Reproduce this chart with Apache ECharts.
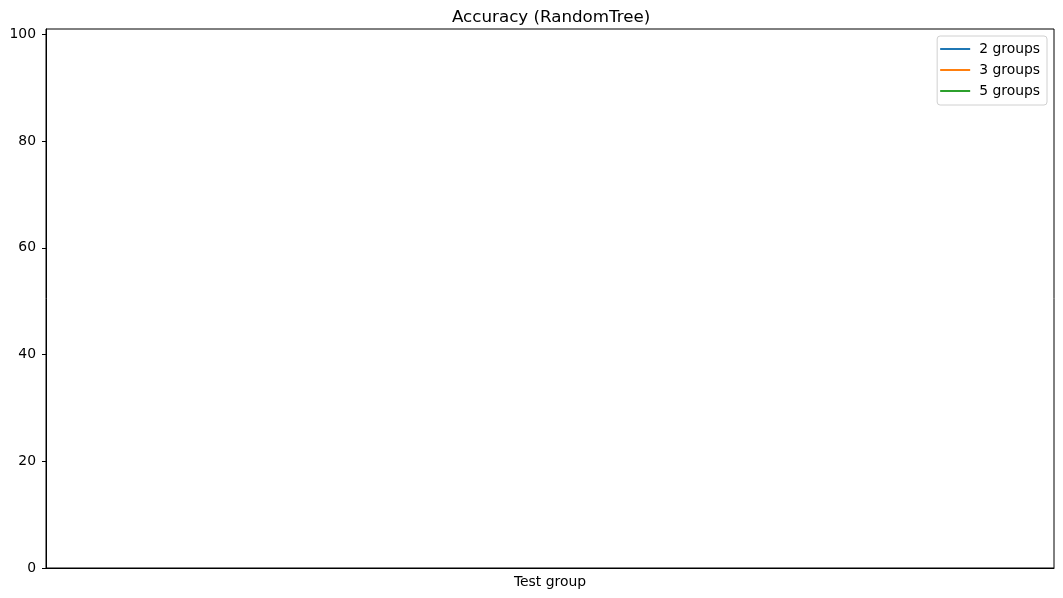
<!DOCTYPE html>
<html>
<head>
<meta charset="utf-8">
<script src="https://cdn.jsdelivr.net/npm/echarts@6/dist/echarts.min.js"></script>
<style>
html,body{margin:0;padding:0;background:#fff;}
#chart{width:1063px;height:598px;}
</style>
</head>
<body>
<div id="chart"></div>
<script>
var titleText = 'Accuracy (RandomTree)';
var xLabel = 'Test group';
var seriesNames = ['2 groups', '3 groups', '5 groups'];
var seriesColors = ['#1f77b4', '#ff7f0e', '#2ca02c'];
var values2 = [];
var values3 = [];
var values5 = [];
var yTicks = [0, 20, 40, 60, 80, 100];
var yMin = 0, yMax = 101;

var seriesValues = [values2, values3, values5];
var font = 'DejaVu Sans';
var chart = echarts.init(document.getElementById('chart'), null, {renderer: 'canvas'});
chart.setOption({
  animation: false,
  backgroundColor: '#fff',
  title: {
    text: titleText, left: 447, top: 4,
    textStyle: {fontFamily: font, fontSize: 16.7, fontWeight: 'normal', color: '#000'}
  },
  grid: {
    left: 46, right: 9, top: 29, bottom: 30,
    show: true, borderColor: '#000', borderWidth: 1, backgroundColor: 'transparent'
  },
  legend: {
    orient: 'vertical', right: 16, top: 36,
    padding: [6, 7, 7, 3],
    borderColor: '#d0d0d0', borderWidth: 1, borderRadius: 3, backgroundColor: '#fff',
    icon: 'rect', itemWidth: 30, itemHeight: 2, itemGap: 7,
    textStyle: {fontFamily: font, fontSize: 13.9, color: '#000', padding: [0, 0, 0, 4]},
    data: seriesNames
  },
  xAxis: {
    type: 'value', min: 0, max: 1,
    name: xLabel, nameLocation: 'middle', nameGap: 7,
    nameTextStyle: {fontFamily: font, fontSize: 13.9, color: '#000', verticalAlign: 'top'},
    axisLine: {show: true, lineStyle: {color: '#000', width: 1}},
    axisTick: {show: false}, axisLabel: {show: false}, splitLine: {show: false}
  },
  yAxis: {
    type: 'value', min: yMin, max: yMax,
    axisLine: {show: true, lineStyle: {color: '#000', width: 1}},
    axisTick: {show: true, inside: false, length: 4, customValues: yTicks, lineStyle: {color: '#000'}},
    axisLabel: {fontFamily: font, fontSize: 13.9, color: '#000', margin: 10, customValues: yTicks},
    splitLine: {show: false}
  },
  series: seriesNames.map(function (n, i) {
    return {
      name: n, type: 'line', symbol: 'none', showSymbol: false,
      color: seriesColors[i],
      lineStyle: {width: 1.5, color: seriesColors[i]},
      data: seriesValues[i]
    };
  })
});
</script>
</body>
</html>
